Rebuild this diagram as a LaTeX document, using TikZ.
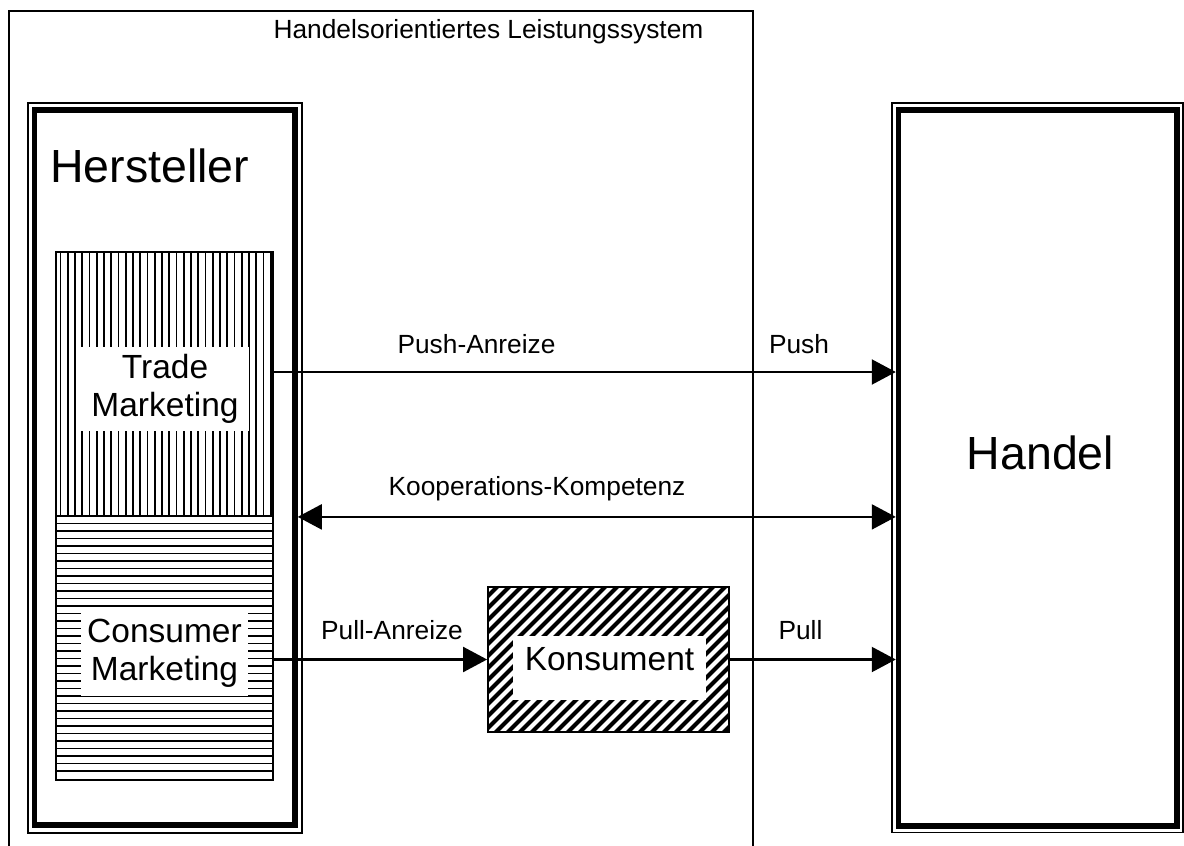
\documentclass[tikz,border=0pt]{standalone}
\usepackage{fontspec}
\setmainfont{Liberation Sans}
\usetikzlibrary{arrows.meta}
\newcommand\fsSmall{\fontsize{26.3}{30}\selectfont}
\newcommand\fsMid{\fontsize{33.5}{38}\selectfont}
\newcommand\fsBig{\fontsize{46.5}{52}\selectfont}
\begin{document}
\begin{tikzpicture}[x=1pt,y=-1pt,
  thinframe/.style={draw,line width=1.2pt,rectangle,inner sep=0pt},
  thickframe/.style={draw,line width=5.5pt,rectangle,inner sep=0pt},
  hatchbox/.style={draw,line width=1.8pt,rectangle,inner sep=0pt},
  whitelabel/.style={fill=white,inner sep=0pt,align=center,font=\fsMid},
  arr/.style={line width=2.2pt,-{Triangle[length=24pt,width=25pt]}},
  biarr/.style={line width=2.2pt,{Triangle[length=24pt,width=25pt]}-{Triangle[length=24pt,width=25pt]}},
  lbl/.style={anchor=base,inner sep=0pt,font=\fsSmall},
  hatchline/.style={line width=1.7pt}]
\useasboundingbox (0,0) rectangle (1184,846);

% system frame, open at the bottom
\draw[line width=1.6pt] (9,847) -- (9,11) -- (753,11) -- (753,847);
\node[lbl] (title) at (488.5,38) {Handelsorientiertes Leistungssystem};

% manufacturer: double frame
\node[thinframe, minimum width=274pt, minimum height=730pt] (hersteller) at (165,468) {};
\node[thickframe, minimum width=260.5pt, minimum height=715pt] (herstellerin) at (164.75,467.5) {};
\node[anchor=base west, inner sep=0pt, font=\fsBig] (herstellerlbl) at (50,182) {Hersteller};

% trade marketing: vertical hatching
\begin{scope}
  \clip (56,252) rectangle (273,516);
  \foreach \i in {0,...,29} \draw[hatchline] ({60.5+7.25*\i},250) -- ++(0,268);
\end{scope}
% consumer marketing: horizontal hatching
\begin{scope}
  \clip (56,516) rectangle (273,780);
  \foreach \i in {0,...,33} \draw[hatchline] (54,{523.5+7.5*\i}) -- ++(221,0);
\end{scope}
\node[whitelabel, minimum width=168pt, minimum height=84pt] (tradelbl) at (165,389) {Trade\\Marketing};
\node[whitelabel, minimum width=167pt, minimum height=84pt] (consumerlbl) at (164.5,653.5) {Consumer\\Marketing};
\node[hatchbox, minimum width=217pt, minimum height=264pt] (trade) at (164.5,384) {};
\node[hatchbox, minimum width=217pt, minimum height=264pt] (consumer) at (164.5,648) {};

% consumer: diagonal hatching
\begin{scope}
  \clip (488,587) rectangle (729,732);
  \foreach \c in {320,332,...,740} \draw[line width=4pt] (\c,740) -- ++(160,-160);
\end{scope}
\node[whitelabel, minimum width=193pt, minimum height=64pt, text height=24pt, text depth=20pt] (konslbl) at (609.5,668) {Konsument};
\node[hatchbox, minimum width=241pt, minimum height=145pt] (konsument) at (608.5,659.5) {};

% retail: double frame
\node[thinframe, minimum width=291pt, minimum height=729.5pt] (handel) at (1037.5,467.75) {};
\node[thickframe, minimum width=278.5pt, minimum height=716pt] (handelin) at (1037.75,468) {};
\node[anchor=base, inner sep=0pt, font=\fsBig] (handellbl) at (1040.5,469) {Handel};

% flows
\draw[arr] ([yshift=12pt]trade.east) -- ([yshift=12pt]trade.east -| handelin.west);
\draw[biarr] (herstellerin.east |- trade.south) -- (handelin.west |- trade.south);
\draw[arr] (consumer.east |- konsument.west) -- (konsument.west);
\draw[arr] (konsument.east) -- (konsument.east -| handelin.west);

% flow labels
\node[lbl] (pushanr) at (476.5,353) {Push-Anreize};
\node[lbl] (push) at (799,353) {Push};
\node[lbl] (koop) at (537,495) {Kooperations-Kompetenz};
\node[lbl] (pullanr) at (392,639) {Pull-Anreize};
\node[lbl] (pull) at (800.5,639) {Pull};
\end{tikzpicture}
\end{document}
